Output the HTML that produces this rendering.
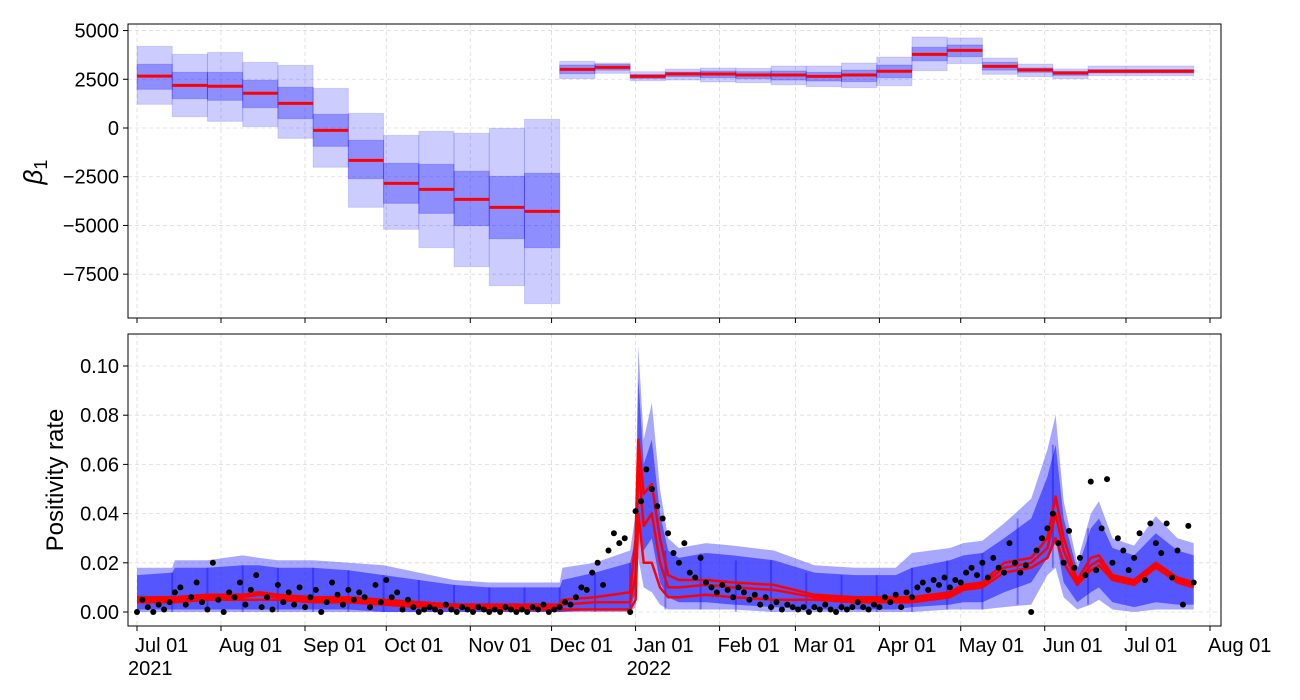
<!DOCTYPE html>
<html><head><meta charset="utf-8"><style>
html,body{margin:0;padding:0;background:#fff;}
svg{display:block;font-family:"Liberation Sans","DejaVu Sans",sans-serif;}
</style></head><body>
<svg id="chart" width="1300" height="700"></svg>
<script>
// ---- data ----
const monthTickDays=[0,31,62,92,123,153,184,215,243,274,304,335,365,396];
const monthTickLabels=["Jul 01","Aug 01","Sep 01","Oct 01","Nov 01","Dec 01","Jan 01","Feb 01","Mar 01","Apr 01","May 01","Jun 01","Jul 01","Aug 01"];
const yearLabels={0:"2021",184:"2022"};
const topTicks=[5000,2500,0,-2500,-5000,-7500];
const botTicks=[0,0.02,0.04,0.06,0.08,0.10];
const boxStart=[0,13,26,39,52,65,78,91,104,117,130,143,156,169,182,195,208,221,234,247,260,273,286,299,312,325,338,351];
const boxEnd=[13,26,39,52,65,78,91,104,117,130,143,156,169,182,195,208,221,234,247,260,273,286,299,312,325,338,351,390];
const boxMed=[2660,2190,2140,1780,1265,-120,-1660,-2840,-3150,-3660,-4070,-4275,3010,3110,2650,2770,2770,2720,2720,2650,2720,2910,3780,3985,3165,2975,2820,2910];
const boxQ75=[3270,2855,2855,2445,2090,700,-630,-1810,-1865,-2220,-2480,-2325,3230,3260,2750,2870,2920,2890,2920,2855,2970,3230,4140,4260,3370,3080,2910,3000];
const boxQ25=[1985,1505,1420,1045,480,-940,-2600,-3865,-4380,-5010,-5680,-6140,2790,2965,2540,2630,2580,2530,2460,2410,2380,2580,3450,3660,2970,2855,2700,2820];
const boxQ95=[4190,3780,3880,3370,3215,2035,750,-375,-170,-270,-15,445,3420,3335,2890,3025,3080,3060,3180,3180,3335,3640,4670,4620,3590,3280,3030,3180];
const boxQ05=[1215,580,340,70,-530,-2015,-4070,-5200,-6140,-7115,-8090,-9015,2530,2805,2430,2460,2360,2325,2220,2120,2070,2170,2940,3300,2755,2630,2530,2680];

const bandDays=[0,13,14,26,39,45,52,65,78,91,104,117,130,143,156,157,169,182,184,185,187,190,193,196,200,210,220,235,250,265,280,286,300,305,312,320,330,336,339,342,347,352,355,360,368,376,384,390];
const outerHi=[.018,.018,.021,.021,.023,.022,.021,.021,.020,.019,.016,.013,.012,.012,.012,.018,.020,.025,.040,.108,.070,.085,.050,.030,.026,.028,.027,.025,.019,.018,.018,.024,.026,.028,.029,.036,.046,.066,.080,.045,.020,.040,.045,.030,.027,.039,.030,.028];
const innerHi=[.015,.016,.018,.018,.019,.019,.018,.018,.017,.015,.013,.011,.010,.010,.010,.013,.016,.020,.030,.095,.060,.070,.040,.025,.022,.024,.023,.021,.016,.015,.015,.018,.021,.023,.024,.030,.038,.055,.068,.038,.017,.034,.038,.026,.023,.032,.025,.023];
const innerLo=[.001,.001,.001,.001,.001,.001,.001,.001,.001,0,0,0,0,0,0,0,.001,.001,.008,.040,.025,.030,.012,.006,.004,.004,.003,.002,.001,.001,.001,.002,.003,.004,.004,.008,.012,.022,.030,.012,.004,.008,.010,.004,.002,.004,.003,.003];
const outerLo=[0,0,0,0,0,0,0,0,0,0,0,0,0,0,0,0,0,0,.002,.022,.010,.008,.003,.001,.001,.001,.001,0,0,0,0,0,.001,.001,.001,.002,.003,.015,.018,.006,.001,.003,.005,.001,0,.001,.001,.001];
const redHi=[.006,.006,.006,.007,.007,.008,.007,.006,.006,.005,.004,.003,.003,.003,.003,.005,.006,.008,.030,.070,.048,.052,.030,.015,.013,.013,.012,.011,.007,.006,.006,.006,.008,.011,.012,.020,.022,.030,.047,.030,.013,.022,.023,.015,.013,.020,.014,.012];
const redMid=[.005,.005,.005,.006,.006,.007,.006,.005,.005,.004,.003,.002,.002,.002,.002,.003,.004,.004,.015,.060,.035,.040,.020,.010,.010,.011,.010,.009,.006,.005,.005,.005,.007,.010,.011,.018,.020,.026,.040,.025,.012,.019,.021,.014,.012,.019,.013,.011];
const redLo=[.004,.004,.004,.005,.005,.005,.005,.004,.004,.003,.002,.002,.001,.001,.001,.001,.001,.001,.005,.040,.020,.020,.010,.006,.006,.007,.006,.005,.005,.004,.004,.004,.006,.009,.010,.016,.018,.022,.030,.020,.011,.017,.019,.013,.011,.018,.012,.010];

const obsStartDay=0, obsStepDays=2;
const obsValues=[.000,.005,.002,.000,.003,.001,.004,.008,.010,.003,.006,
.012,.004,.001,.020,.005,.000,.008,.006,.012,.003,
.009,.015,.002,.006,.001,.011,.004,.008,.003,.010,
.002,.006,.009,.000,.004,.012,.007,.003,.009,.005,
.008,.006,.002,.011,.004,.013,.006,.008,.001,.005,
.002,.000,.001,.002,.001,.000,.003,.001,.000,.002,
.001,.000,.002,.001,.000,.001,.000,.002,.001,.000,
.001,.000,.002,.001,.003,.000,.001,.002,.004,.003,
.006,.010,.009,.016,.020,.011,.025,.032,.028,.030,
.000,.041,.045,.058,.050,.043,.038,.032,.024,.020,
.028,.016,.014,.022,.012,.010,.008,.011,.009,.006,
.010,.008,.005,.007,.003,.006,.002,.004,.001,.003,
.002,.001,.002,.000,.002,.001,.003,.001,.000,.002,
.001,.002,.004,.002,.001,.003,.002,.006,.004,.007,
.002,.008,.006,.010,.012,.009,.013,.011,.014,.010,
.013,.012,.016,.018,.015,.020,.014,.022,.018,.016,
.028,.020,.016,.019,.000,.025,.030,.034,.040,.028,
.020,.033,.018,.022,.015,.053,.017,.034,.054,.020,
.030,.025,.017,.022,.032,.013,.036,.028,.024,.036,
.014,.025,.003,.035,.012];

// ---- scales ----
const L=128,R=1221;
const X=d=>137+d*2.7096;
const T={top:24,bot:318}, B={top:334,bot:626};
const Yt=v=>128-v*0.01949;
const Yb=v=>612-v*2460;
const NS="http://www.w3.org/2000/svg";
const svg=document.getElementById('chart');
function mk(tag,attrs,parent){const e=document.createElementNS(NS,tag);for(const k in attrs)e.setAttribute(k,attrs[k]);(parent||svg).appendChild(e);return e;}

function panel(p,name,ticks,Y,fmt){
  const g=mk('g',{});
  
  
  monthTickDays.forEach(d=>{const l=mk('line',{x1:X(d),x2:X(d),y1:p.top,y2:p.bot,stroke:'#dcdcdc','stroke-dasharray':'4,3','stroke-width':0.8},g);
    });
  ticks.forEach(v=>{const l=mk('line',{x1:L,x2:R,y1:Y(v),y2:Y(v),stroke:'#dcdcdc','stroke-dasharray':'4,3','stroke-width':0.8},g);
    
    const tk=mk('line',{x1:L-5,x2:L,y1:Y(v),y2:Y(v),stroke:'#000','stroke-width':1},g);
    
    const t=mk('text',{x:L-9,y:Y(v)+7,'text-anchor':'end','font-size':20},g);t.textContent=fmt(v);
    });
  monthTickDays.forEach(d=>{const tk=mk('line',{x1:X(d),x2:X(d),y1:p.bot,y2:p.bot+5,stroke:'#000','stroke-width':1},g);
    });
  return g;
}
const gTop=panel(T,'beta1-panel',topTicks,Yt,v=>v<0?'\u2212'+(-v):String(v));
const gBot=panel(B,'positivity-panel',botTicks,Yb,v=>v.toFixed(2));

for(let i=0;i<boxMed.length;i++){
  const x1=X(boxStart[i]),x2=X(boxEnd[i]);
  const o=mk('rect',{x:x1,y:Yt(boxQ95[i]),width:x2-x1,height:Yt(boxQ05[i])-Yt(boxQ95[i]),fill:'rgba(0,0,255,0.2)',stroke:'rgba(0,0,255,0.12)','stroke-width':1},gTop);
  
  const n=mk('rect',{x:x1,y:Yt(boxQ75[i]),width:x2-x1,height:Yt(boxQ25[i])-Yt(boxQ75[i]),fill:'rgba(0,0,255,0.3)',stroke:'rgba(0,0,255,0.2)','stroke-width':1},gTop);
  
  const m=mk('line',{x1:x1,x2:x2,y1:Yt(boxMed[i]),y2:Yt(boxMed[i]),stroke:'#ff0000','stroke-width':3},gTop);
  
}

function bandPath(hi,lo){let s='M';for(let i=0;i<bandDays.length;i++)s+=X(bandDays[i]).toFixed(1)+','+Yb(hi[i]).toFixed(1)+' L';
  for(let i=bandDays.length-1;i>=0;i--)s+=X(bandDays[i]).toFixed(1)+','+Yb(lo[i]).toFixed(1)+(i?' L':' Z');return s;}
function linePath(a){return 'M'+bandDays.map((d,i)=>X(d).toFixed(1)+','+Yb(a[i]).toFixed(1)).join(' L');}
const ob=mk('path',{d:bandPath(outerHi,outerLo),fill:'rgba(60,60,255,0.45)'},gBot);

const ib=mk('path',{d:bandPath(innerHi,innerLo),fill:'rgba(20,20,255,0.55)'},gBot);

boxStart.forEach(d=>{if(d>0){const i=bandDays.findIndex(b=>b>=d);const v=mk('line',{x1:X(d),x2:X(d),y1:Yb(innerHi[i]),y2:Yb(outerLo[i]),stroke:'rgba(0,0,255,0.35)','stroke-width':2},gBot);
  }});
[[redHi,'red-upper-line'],[redMid,'red-median-line'],[redLo,'red-lower-line']].forEach(([a,n])=>{
  const p=mk('path',{d:linePath(a),fill:'none',stroke:'#ff0000','stroke-width':2.5,'stroke-linejoin':'round'},gBot);
  });
obsValues.forEach((v,i)=>{const c=mk('circle',{cx:X(obsStartDay+i*obsStepDays),cy:Yb(v),r:3,fill:'#000'},gBot);
  });

[[T,'beta-axes-frame'],[B,'positivity-axes-frame']].forEach(([p,n])=>{const r=mk('rect',{x:L,y:p.top,width:R-L,height:p.bot-p.top,fill:'none',stroke:'#000','stroke-width':1});
  });

monthTickDays.forEach((d,i)=>{const t=mk('text',{x:X(d)-2,y:652,'text-anchor':'start','font-size':20});t.textContent=monthTickLabels[i];
  
  if(yearLabels[d]){const y=mk('text',{x:X(d)-9,y:675,'font-size':20});y.textContent=yearLabels[d];
    }});

const a1=mk('text',{x:0,y:0,'font-size':26,transform:'translate(42,172) rotate(-90)','text-anchor':'middle','font-style':'italic'});
a1.innerHTML='\u03B2<tspan font-size="18" font-style="normal" dy="5">1</tspan>';

const a2=mk('text',{x:0,y:0,'font-size':24,transform:'translate(63,480) rotate(-90)','text-anchor':'middle'});
a2.textContent='Positivity rate';

</script>
</body></html>
